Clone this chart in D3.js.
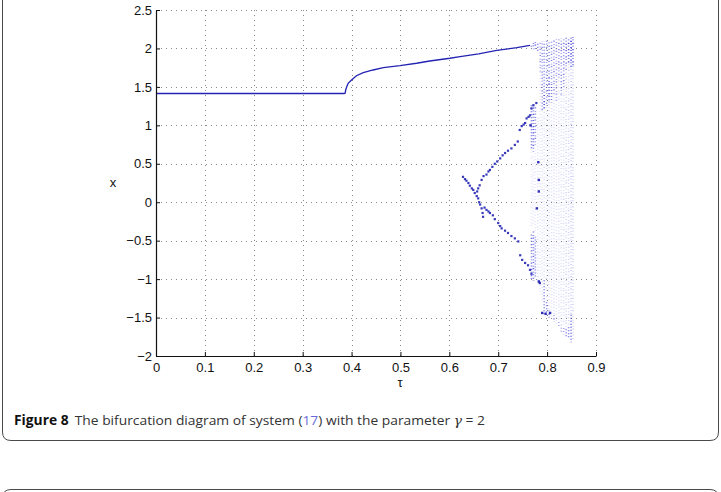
<!DOCTYPE html>
<html><head><meta charset="utf-8">
<script src="https://cdn.jsdelivr.net/npm/d3@7"></script>
<style>body{margin:0;background:#fff}svg{display:block}
.tk text{font-family:'Liberation Sans',Arial,Helvetica,sans-serif;font-size:13px;fill:#111}
.lab{font-family:'Liberation Sans',Arial,Helvetica,sans-serif;font-size:13px;fill:#111}
</style>
</head><body>
<svg id="c" width="721" height="492"></svg>
<script>
// ---- data ----
const xTicks = [0,0.1,0.2,0.3,0.4,0.5,0.6,0.7,0.8,0.9];
const xTickLabels = ["0","0.1","0.2","0.3","0.4","0.5","0.6","0.7","0.8","0.9"];
const yTicks = [-2,-1.5,-1,-0.5,0,0.5,1,1.5,2,2.5];
const yTickLabels = ["\u22122","\u22121.5","\u22121","\u22120.5","0","0.5","1","1.5","2","2.5"];

// main (period-1) branch
const mainTau = [0,0.1,0.2,0.3,0.385,0.387,0.388,0.390,0.393,0.400,0.410,0.424,0.444,0.465,0.499,0.533,0.560,0.601,0.622,0.660,0.697,0.738,0.765];
const mainX   = [1.414,1.414,1.414,1.414,1.414,1.42,1.46,1.50,1.547,1.59,1.645,1.685,1.72,1.75,1.776,1.807,1.837,1.872,1.893,1.93,1.975,2.01,2.04];

// steep transient branch
const steepTau = [0.628,0.632,0.635,0.639,0.642,0.646,0.649,0.652,0.656,0.659,0.661,0.663,0.666,0.668,0.669];
const steepX   = [0.33,0.30,0.28,0.25,0.215,0.18,0.16,0.12,0.08,0.05,0.0,-0.03,-0.08,-0.14,-0.19];
// rising branch
const riseTau = [0.657,0.659,0.662,0.666,0.670,0.676,0.680,0.683,0.688,0.693,0.698,0.704,0.709,0.714,0.720,0.727,0.734,0.740,0.744,0.748,0.752,0.755,0.758,0.762,0.765,0.768,0.772,0.778];
const riseX   = [0.14,0.18,0.22,0.29,0.34,0.36,0.40,0.42,0.46,0.50,0.53,0.57,0.61,0.64,0.67,0.70,0.745,0.79,0.94,0.99,1.01,1.03,1.09,1.11,1.13,1.22,1.26,1.29];
// falling branch
const fallTau = [0.672,0.676,0.680,0.683,0.689,0.693,0.700,0.704,0.707,0.714,0.720,0.727,0.734,0.741,0.745,0.749,0.755,0.761,0.765,0.768];
const fallX   = [-0.07,-0.10,-0.12,-0.14,-0.17,-0.22,-0.27,-0.31,-0.34,-0.37,-0.40,-0.44,-0.47,-0.51,-0.69,-0.75,-0.79,-0.82,-0.88,-0.93];
// isolated dark points inside the chaotic band
const isoTau = [0.782,0.783,0.783,0.779,0.783,0.785,0.766,0.790,0.797,0.806];
const isoX   = [0.52,0.29,0.14,-0.08,-1.03,-1.05,1.00,-1.44,-1.45,-1.44];

// chaotic band: vertical segments (tau, top, bottom, density)
const chaosTau = [0.768,0.768,0.768,0.768,0.772,0.772,0.772,0.772,0.776,0.776,0.776,0.776,0.781,0.781,0.786,0.786,0.790,0.790,
  0.794,0.794,0.794,0.794,0.799,0.799,0.799,0.804,0.804,0.804,0.804,0.809,0.809,0.809,0.814,0.814,0.814,0.819,0.819,
  0.824,0.824,0.824,0.829,0.829,0.829,0.834,0.834,0.834,0.839,0.839,0.839,0.844,0.844,0.844,0.849,0.849,0.849,0.853,0.853];
const chaosTop = [1.26,-0.40,0.65,2.06,1.28,-0.36,0.60,2.07,1.24,-0.45,0.70,2.08,2.08,1.10,2.09,1.70,2.09,1.20,
  2.09,1.45,1.20,-1.00,2.10,1.25,-1.30,2.10,1.62,1.30,-1.40,2.11,1.55,1.30,2.11,1.40,-1.45,2.12,1.30,
  2.12,1.60,-1.55,2.13,1.40,-1.60,2.13,1.50,-1.62,2.14,1.70,-1.65,2.14,1.80,-1.60,2.15,1.76,-1.45,2.15,1.78];
const chaosBot = [0.70,-1.00,-0.35,2.00,0.66,-1.02,-0.30,1.99,0.75,-0.98,-0.40,1.98,1.96,-1.05,1.70,-1.20,1.20,-1.30,
  1.45,1.20,-1.00,-1.46,1.25,-1.30,-1.47,1.62,1.30,-1.40,-1.50,1.55,1.30,-1.50,1.40,-1.45,-1.55,1.30,-1.58,
  1.60,-1.55,-1.62,1.40,-1.60,-1.68,1.50,-1.62,-1.72,1.70,-1.65,-1.75,1.80,-1.60,-1.78,1.76,-1.45,-1.82,1.78,-1.80];
const chaosDensity = [0.7,0.65,0.12,0.7,0.75,0.7,0.12,0.7,0.6,0.6,0.12,0.7,0.65,0.14,0.5,0.15,0.5,0.15,
  0.55,0.8,0.16,0.6,0.55,0.16,0.6,0.55,0.85,0.16,0.6,0.55,0.8,0.16,0.55,0.16,0.55,0.5,0.17,
  0.55,0.15,0.55,0.55,0.17,0.55,0.6,0.17,0.6,0.65,0.2,0.6,0.8,0.22,0.65,0.9,0.25,0.7,0.75,0.22];

// ---- drawing ----
const svg = d3.select("#c");
const L = 156, R = 596, T = 10, B = 356;
const x = d3.scaleLinear().domain([0,0.9]).range([L,R]);
const y = d3.scaleLinear().domain([-2,2.5]).range([B,T]);

// caption box
svg.append("path")
  .attr("d", `M2.5,-20 L2.5,432 Q2.5,440.5 11,440.5 L710,440.5 Q718.5,440.5 718.5,432 L718.5,-20`)
  .attr("fill","none").attr("stroke","#4a4a4a").attr("stroke-width",1);
svg.append("path")
  .attr("d", `M2.5,510 L2.5,498 Q2.5,489.5 11,489.5 L710,489.5 Q718.5,489.5 718.5,498 L718.5,510`)
  .attr("fill","none").attr("stroke","#4a4a4a").attr("stroke-width",1);

// grid
const grid = svg.append("g").attr("stroke","#8a8a8a").attr("stroke-width",1).attr("stroke-dasharray","1 4");
grid.selectAll(".gx").data(xTicks.slice(1)).join("line")
  .attr("x1",d=>Math.round(x(d))+0.5).attr("x2",d=>Math.round(x(d))+0.5).attr("y1",B).attr("y2",T);
grid.selectAll(".gy").data(yTicks.slice(1)).join("line")
  .attr("y1",d=>Math.round(y(d))+0.5).attr("y2",d=>Math.round(y(d))+0.5).attr("x1",L).attr("x2",R);

const blue = "#2424b4";
// chaotic band
const chaos = chaosTau.map((t,i)=>({t,top:chaosTop[i],bot:chaosBot[i],d:chaosDensity[i]}));
svg.append("g").selectAll("line").data(chaos).join("line")
  .attr("x1",d=>x(d.t)).attr("x2",d=>x(d.t))
  .attr("y1",d=>y(d.top)).attr("y2",d=>y(d.bot))
  .attr("stroke","#2c2cd6").attr("stroke-width",1.6)
  .attr("stroke-dasharray",(d,i)=> i%3===0 ? "0.9 2.1" : (i%3===1 ? "1.2 1.8 0.8 2.4" : "0.8 1.6 1.1 2.6"))
  .attr("stroke-dashoffset",(d,i)=> (i*1.37)%3)
  .attr("stroke-opacity",d=>d.d);

// main branch as a line
const mainPts = mainTau.map((t,i)=>[t,mainX[i]]);
svg.append("path").datum(mainPts)
  .attr("d", d3.line().x(d=>x(d[0])).y(d=>y(d[1])))
  .attr("fill","none").attr("stroke",blue).attr("stroke-width",1.35);

// periodic branches as dots
function dots(taus, xs, s, op){
  svg.append("g").selectAll("rect").data(taus.map((t,i)=>[t,xs[i]])).join("rect")
    .attr("x",d=>x(d[0])-s/2).attr("y",d=>y(d[1])-s/2)
    .attr("width",s).attr("height",s).attr("fill",blue).attr("fill-opacity",op);
}
dots(steepTau, steepX, 2.2, 0.9);
dots(riseTau, riseX, 2.2, 0.9);
dots(fallTau, fallX, 2.2, 0.9);
dots(isoTau, isoX, 2.4, 0.95);

// axes
const ax = svg.append("g").attr("class","tk").attr("transform",`translate(0,${B})`)
  .call(d3.axisBottom(x).tickValues(xTicks).tickFormat((d,i)=>xTickLabels[i]).tickSizeInner(-4).tickSizeOuter(0).tickPadding(7));
const ay = svg.append("g").attr("class","tk").attr("transform",`translate(${L},0)`)
  .call(d3.axisLeft(y).tickValues(yTicks).tickFormat((d,i)=>yTickLabels[i]).tickSizeInner(-4).tickSizeOuter(0).tickPadding(4));
[ax,ay].forEach(g=>{
  g.attr("font-size",null).attr("font-family",null);
  g.select(".domain").attr("stroke","#111").attr("stroke-width",1.2);
  g.selectAll(".tick line").attr("stroke","#111");
});

svg.append("text").attr("class","lab").attr("x",400).attr("y",387).attr("text-anchor","middle").text("\u03c4");
svg.append("text").attr("class","lab").attr("x",113).attr("y",187).attr("text-anchor","middle").text("x");

// caption
const cap = svg.append("text").attr("x",14).attr("y",425)
  .style("font-family","'Open Sans', 'Noto Sans', sans-serif").style("font-size","13.5px").attr("fill","#333");
cap.append("tspan").attr("font-weight","bold").attr("fill","#111").text("Figure 8");
cap.append("tspan").attr("dx",6).text("The bifurcation diagram of system (");
cap.append("tspan").attr("fill","#6a6ad8").text("17");
cap.append("tspan").text(") with the parameter ");
cap.append("tspan").attr("font-style","italic").style("font-family","'DejaVu Serif', serif").text("\u03b3");
cap.append("tspan").text(" = 2");
cap.attr("textLength", 471).attr("lengthAdjust","spacingAndGlyphs");
</script>
</body></html>
